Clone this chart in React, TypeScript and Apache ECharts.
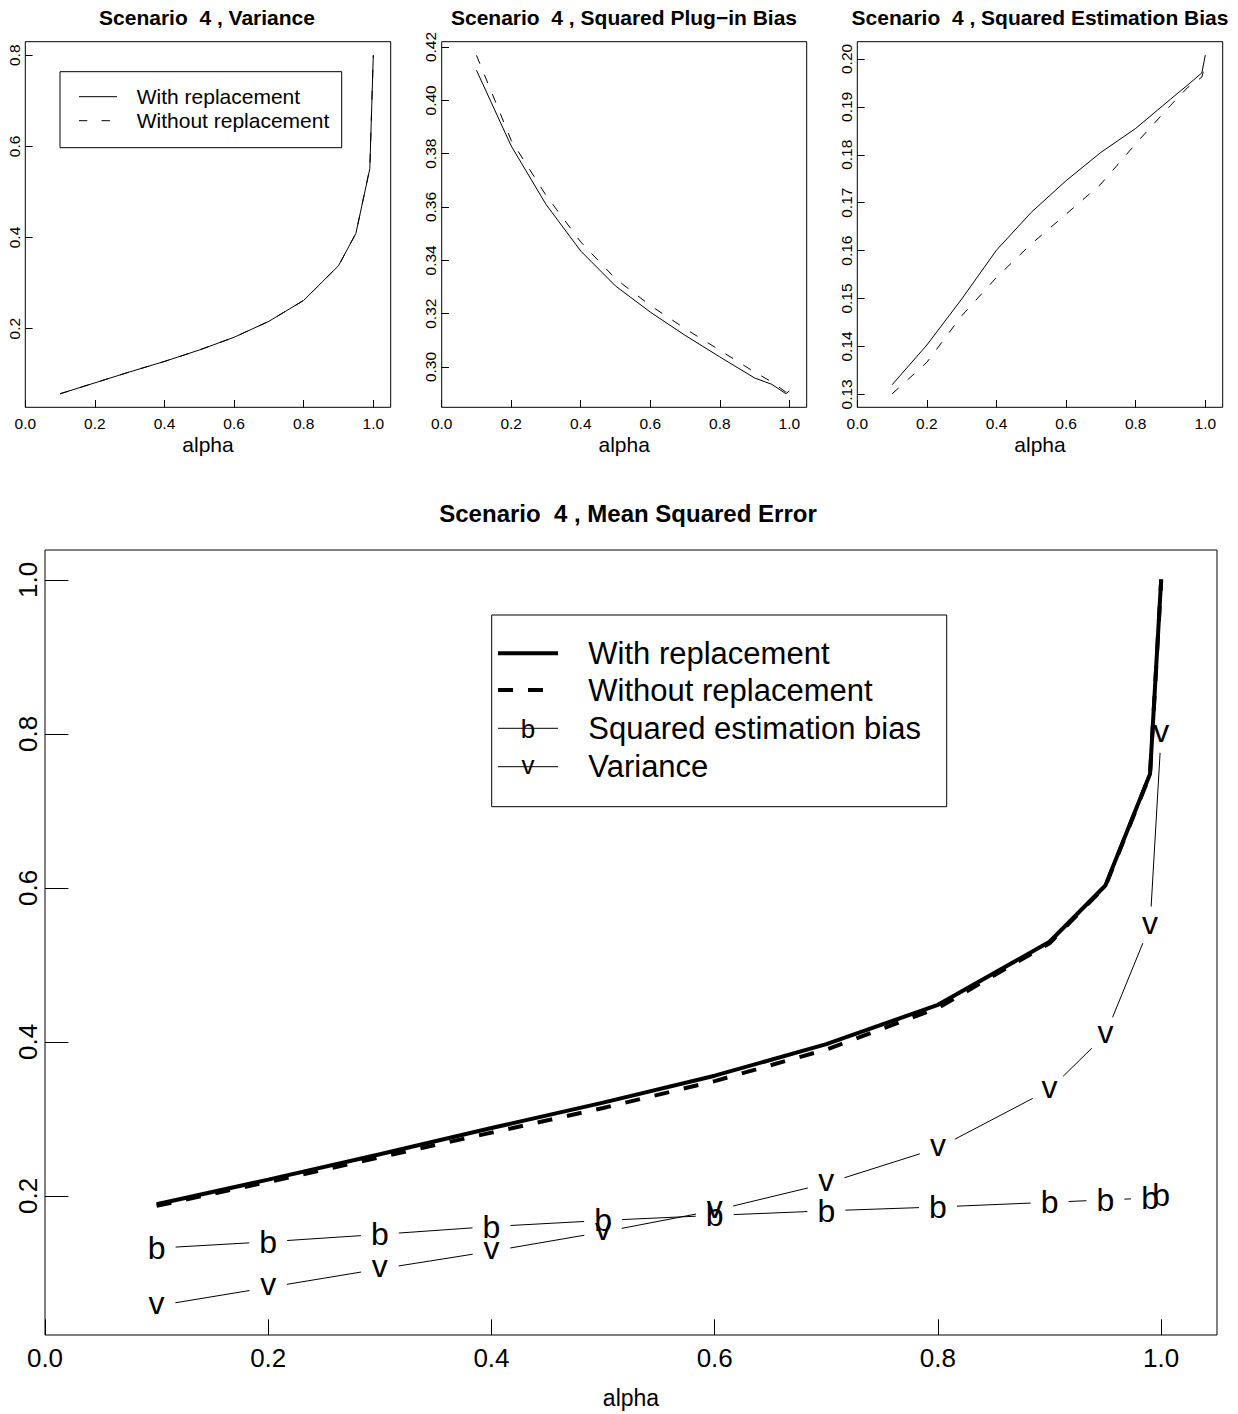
import React, { useEffect, useRef } from "react";
import * as echarts from "echarts";

const alpha = [0.1, 0.2, 0.3, 0.4, 0.5, 0.6, 0.7, 0.8, 0.9, 0.95, 0.99, 1.0];

const varianceWith = [0.057, 0.081, 0.105, 0.128, 0.153, 0.181, 0.216, 0.262, 0.338, 0.409, 0.551, 0.8];
const varianceWithout = [0.057, 0.081, 0.105, 0.128, 0.153, 0.181, 0.216, 0.262, 0.338, 0.409, 0.552, 0.8];

const plugInWith = [0.4113, 0.3829, 0.361, 0.3435, 0.3304, 0.3206, 0.3119, 0.3038, 0.2959, 0.2935, 0.29, 0.291];
const plugInWithout = [0.4169, 0.385, 0.3644, 0.3469, 0.3331, 0.3231, 0.3144, 0.3063, 0.2981, 0.2944, 0.2906, 0.2913];

const estBiasWith = [0.132, 0.1403, 0.1499, 0.1601, 0.168, 0.1746, 0.1805, 0.1855, 0.1916, 0.1946, 0.1971, 0.2008];
const estBiasWithout = [0.1301, 0.1367, 0.1464, 0.1544, 0.1614, 0.1676, 0.1739, 0.1823, 0.1903, 0.1941, 0.1962, 0.199];

const mseWith = [0.189, 0.221, 0.254, 0.288, 0.321, 0.356, 0.397, 0.448, 0.53, 0.603, 0.748, 1.001];
const mseWithout = [0.187, 0.218, 0.25, 0.282, 0.314, 0.349, 0.39, 0.444, 0.528, 0.602, 0.747, 0.999];

const xTicks = [0, 0.2, 0.4, 0.6, 0.8, 1.0];
const yTicksVar = [0.2, 0.4, 0.6, 0.8];
const yTicksPlug = [0.3, 0.32, 0.34, 0.36, 0.38, 0.4, 0.42];
const yTicksEst = [0.13, 0.14, 0.15, 0.16, 0.17, 0.18, 0.19, 0.2];
const yTicksMse = [0.2, 0.4, 0.6, 0.8, 1.0];

const titles = [
  "Scenario  4 , Variance",
  "Scenario  4 , Squared Plug\u2212in Bias",
  "Scenario  4 , Squared Estimation Bias",
  "Scenario  4 , Mean Squared Error",
];
const legendLabels = ["With replacement", "Without replacement", "Squared estimation bias", "Variance"];

const FONT = "'Liberation Sans', Arial, Helvetica, sans-serif";

function pairs(ys: number[]) {
  return alpha.map((a, i) => [a, ys[i]]);
}
function chain(ys: number[]) {
  return alpha.map((a, i) => {
    const j = Math.min(i + 1, alpha.length - 1);
    return [a, ys[i], alpha[j], ys[j]];
  });
}

export default function App() {
  const ref = useRef<HTMLDivElement>(null);
  useEffect(() => {
    if (!ref.current) return;
    const chart = echarts.init(ref.current, undefined, { renderer: "svg" });

    const grids = [
      { left: 25.3, top: 41.7, width: 365.4, height: 365.6 },
      { left: 441.7, top: 41.7, width: 365.0, height: 365.6 },
      { left: 857.3, top: 41.7, width: 365.4, height: 365.6 },
      { left: 45, top: 550, width: 1172, height: 787 },
    ].map((g) => ({ ...g, show: true, borderColor: "#000", borderWidth: 1, backgroundColor: "transparent" }));

    const mkX = (i: number, big: boolean) => ({
      gridIndex: i,
      type: "value",
      min: 0,
      max: 1.05,
      axisLine: { show: false },
      splitLine: { show: false },
      axisTick: { show: true, inside: true, length: big ? 15.7 : 7.3, customValues: xTicks, lineStyle: { color: "#000", width: 1 } },
      axisLabel: {
        customValues: xTicks,
        formatter: (v: number) => v.toFixed(1),
        fontSize: big ? 26 : 15.5,
        color: "#000",
        fontFamily: FONT,
        margin: big ? 10 : 8,
      },
      name: "alpha",
      nameLocation: "middle",
      nameGap: big ? 51 : 27,
      nameTextStyle: { fontSize: big ? 23 : 21, color: "#000", fontFamily: FONT },
    });

    const mkY = (i: number, min: number, max: number, ticks: number[], dec: number, big: boolean) => ({
      gridIndex: i,
      type: "value",
      min,
      max,
      axisLine: { show: false },
      splitLine: { show: false },
      axisTick: { show: true, inside: true, length: big ? 23.4 : 7.3, customValues: ticks, lineStyle: { color: "#000", width: 1 } },
      axisLabel: {
        customValues: ticks,
        formatter: (v: number) => v.toFixed(dec),
        rotate: 90,
        fontSize: big ? 26 : 15.5,
        color: "#000",
        fontFamily: FONT,
        margin: big ? 4 : 3,
      },
    });

    const thin = (x: number, ys: number[], dashed: boolean) => ({
      type: "line",
      xAxisIndex: x,
      yAxisIndex: x,
      data: pairs(ys),
      symbol: "none",
      silent: true,
      lineStyle: { color: "#000", width: 1, type: dashed ? [9, 12] : "solid" },
    });

    const glyphSeries = (ys: number[], glyph: string, dyShift: number) => ({
      type: "custom",
      xAxisIndex: 3,
      yAxisIndex: 3,
      data: chain(ys),
      silent: true,
      renderItem: (params: any, api: any) => {
        const p = api.coord([api.value(0), api.value(1)]);
        const q = api.coord([api.value(2), api.value(3)]);
        const children: any[] = [
          {
            type: "text",
            style: {
              text: glyph,
              x: p[0],
              y: p[1] + dyShift,
              align: "center",
              verticalAlign: "middle",
              fontSize: 32,
              fontFamily: FONT,
              fill: "#000",
            },
          },
        ];
        const dx = q[0] - p[0];
        const dy = q[1] - p[1];
        const len = Math.hypot(dx, dy);
        const gap = 19;
        if (len > 2 * gap) {
          children.push({
            type: "line",
            shape: {
              x1: p[0] + (dx / len) * gap,
              y1: p[1] + (dy / len) * gap,
              x2: q[0] - (dx / len) * gap,
              y2: q[1] - (dy / len) * gap,
            },
            style: { stroke: "#000", lineWidth: 1 },
          });
        }
        return { type: "group", children };
      },
    });

    const txt = (text: string, x: number, y: number, size: number, bold: boolean, align = "center") => ({
      type: "text",
      x,
      y,
      silent: true,
      style: {
        text,
        fontSize: size,
        fontWeight: bold ? "bold" : "normal",
        fontFamily: FONT,
        fill: "#000",
        align,
        verticalAlign: "middle",
      },
    });
    const seg = (x1: number, y1: number, x2: number, y2: number, w: number, dash?: number[]) => ({
      type: "line",
      silent: true,
      shape: { x1, y1, x2, y2 },
      style: { stroke: "#000", lineWidth: w, lineDash: dash || null },
    });

    const bottomRows = [653.3, 690, 728.3, 766.7];

    const graphic: any[] = [
      txt(titles[0], 207, 17, 21, true),
      txt(titles[1], 624, 17, 21, true),
      txt(titles[2], 1040, 17, 21, true),
      txt(titles[3], 628, 513, 24, true),
      // top-left legend
      { type: "rect", silent: true, shape: { x: 60, y: 71.7, width: 281.7, height: 76 }, style: { fill: "#fff", stroke: "#000", lineWidth: 1 } },
      seg(79, 96.7, 117, 96.7, 1),
      seg(79, 120.7, 117, 120.7, 1, [8.3, 14.3]),
      txt(legendLabels[0], 136.7, 96.7, 21, false, "left"),
      txt(legendLabels[1], 136.7, 120.7, 21, false, "left"),
      // bottom legend
      { type: "rect", silent: true, shape: { x: 491.7, y: 615, width: 455, height: 191.7 }, style: { fill: "#fff", stroke: "#000", lineWidth: 1 } },
      seg(498, bottomRows[0], 558, bottomRows[0], 4),
      seg(498, bottomRows[1], 558, bottomRows[1], 4, [15, 15]),
      seg(498, bottomRows[2], 558, bottomRows[2], 1),
      seg(498, bottomRows[3], 558, bottomRows[3], 1),
      txt("b", 528, bottomRows[2] + 1, 26, false),
      txt("v", 528, bottomRows[3] - 2, 26, false),
      ...legendLabels.map((l, i) => txt(l, 588.3, bottomRows[i], 31, false, "left")),
    ];

    chart.setOption({
      animation: false,
      backgroundColor: "#fff",
      grid: grids,
      xAxis: [mkX(0, false), mkX(1, false), mkX(2, false), mkX(3, true)],
      yAxis: [
        mkY(0, 0.0273, 0.8297, yTicksVar, 1, false),
        mkY(1, 0.2849, 0.422, yTicksPlug, 2, false),
        mkY(2, 0.1273, 0.2036, yTicksEst, 2, false),
        mkY(3, 0.0192, 1.0388, yTicksMse, 1, true),
      ],
      series: [
        thin(0, varianceWith, false),
        thin(0, varianceWithout, true),
        thin(1, plugInWith, false),
        thin(1, plugInWithout, true),
        thin(2, estBiasWith, false),
        thin(2, estBiasWithout, true),
        {
          type: "line",
          xAxisIndex: 3,
          yAxisIndex: 3,
          data: pairs(mseWith),
          symbol: "none",
          silent: true,
          lineStyle: { color: "#000", width: 4 },
        },
        {
          type: "line",
          xAxisIndex: 3,
          yAxisIndex: 3,
          data: pairs(mseWithout),
          symbol: "none",
          silent: true,
          lineStyle: { color: "#000", width: 4, type: [15, 15] },
        },
        glyphSeries(estBiasWith, "b", 0),
        glyphSeries(varianceWith, "v", -3),
      ],
      graphic,
    });
    return () => chart.dispose();
  }, []);
  return <div ref={ref} style={{ position: "absolute", left: 0, top: 0, width: 1238, height: 1414 }} />;
}
